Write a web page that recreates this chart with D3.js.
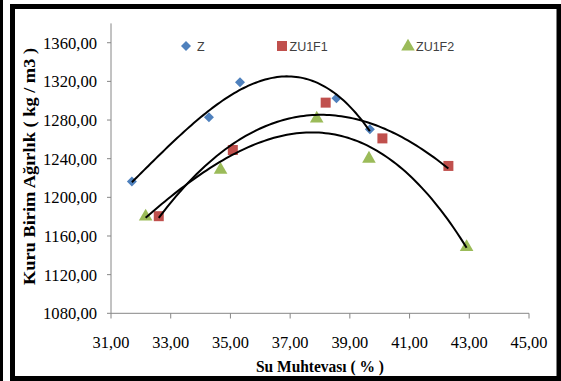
<!DOCTYPE html>
<html><head><meta charset="utf-8">
<script src="https://cdn.jsdelivr.net/npm/d3@7"></script>
<style>body{margin:0;background:#fff}svg{display:block}</style>
</head><body>
<svg id="c" width="561" height="381"></svg>
<script>
const seriesNames = ["Z", "ZU1F1", "ZU1F2"];
const zX = [31.70, 34.28, 35.32, 38.55, 39.67];
const zY = [1216.5, 1283.0, 1319.0, 1302.5, 1270.5];
const f1X = [32.60, 35.08, 38.19, 40.09, 42.30];
const f1Y = [1180.5, 1249.0, 1298.0, 1261.0, 1232.5];
const f2X = [32.16, 34.67, 37.89, 39.64, 42.91];
const f2Y = [1181.0, 1229.5, 1282.5, 1241.0, 1149.5];
const xTicks = [31, 33, 35, 37, 39, 41, 43, 45];
const yTicks = [1080, 1120, 1160, 1200, 1240, 1280, 1320, 1360];
const colors = ["#4F81BD", "#C0504D", "#9BBB59"];
const trendOrder = [3, 3, 3];

const svg = d3.select("#c");
const fmt = v => v.toFixed(2).replace(".", ",");
const serif = "'Liberation Serif','Times New Roman',serif";

svg.append("rect").attr("x",0).attr("y",0).attr("width",3).attr("height",381).attr("fill","#000");
svg.append("rect").attr("x",12.5).attr("y",6.5).attr("width",546.5).attr("height",372)
  .attr("fill","#fff").attr("stroke","#000").attr("stroke-width",5);

const x = d3.scaleLinear().domain([31,45]).range([111,529]);
const y = d3.scaleLinear().domain([1080,1380]).range([313.3,23.4]);

svg.append("line").attr("x1",111).attr("x2",111).attr("y1",y(1380)).attr("y2",y(1080)).attr("stroke","#868686");
svg.selectAll(".yt").data(yTicks).join("line").attr("x1",107).attr("x2",111)
  .attr("y1",d=>y(d)).attr("y2",d=>y(d)).attr("stroke","#868686");
svg.selectAll(".yl").data(yTicks).join("text").attr("x",97).attr("y",d=>y(d)+6)
  .attr("text-anchor","end").style("font-family",serif).attr("font-size",16.6)
  .attr("fill","#000").text(fmt);
svg.append("line").attr("x1",x(31)).attr("x2",x(45)).attr("y1",313.3).attr("y2",313.3).attr("stroke","#868686");
svg.selectAll(".xt").data(xTicks).join("line").attr("x1",d=>x(d)).attr("x2",d=>x(d))
  .attr("y1",313.3).attr("y2",318.5).attr("stroke","#868686");
svg.selectAll(".xl").data(xTicks).join("text").attr("x",d=>x(d)).attr("y",348.3)
  .attr("text-anchor","middle").style("font-family",serif).attr("font-size",16.4)
  .attr("fill","#000").text(fmt);

svg.append("text").attr("transform","translate(35,166.5) rotate(-90)").attr("text-anchor","middle")
  .style("font-family",serif).attr("font-weight","bold").attr("font-size",16)
  .attr("textLength",237).attr("lengthAdjust","spacingAndGlyphs")
  .text("Kuru Birim Ağırlık ( kg / m3 )");
svg.append("text").attr("x",320).attr("y",371.5).attr("text-anchor","middle")
  .style("font-family",serif).attr("font-weight","bold").attr("font-size",16)
  .attr("textLength",128).attr("lengthAdjust","spacingAndGlyphs")
  .text("Su Muhtevası ( % )");

const data = [[zX,zY],[f1X,f1Y],[f2X,f2Y]];
function marker(g,i,cx,cy){
  if(i===0) g.append("path").attr("transform",`translate(${cx},${cy}) rotate(45)`)
     .attr("d",d3.symbol().type(d3.symbolSquare).size(50)).attr("fill",colors[0]);
  else if(i===1) g.append("path").attr("transform",`translate(${cx},${cy})`)
     .attr("d",d3.symbol().type(d3.symbolSquare).size(100)).attr("fill",colors[1]);
  else g.append("path").attr("transform",`translate(${cx},${cy+1})`)
     .attr("d",d3.symbol().type(d3.symbolTriangle).size(80)).attr("fill",colors[2]);
}
const mg = svg.append("g");
data.forEach(([xs,ys],i)=> xs.forEach((v,k)=>marker(mg,i,x(v),y(ys[k]))));

// least-squares polynomial trendline (like Excel's trendline)
function fit(xs,ys,n){
  const m=n+1; const A=[];
  for(let i=0;i<m;i++){ A.push([]); for(let j=0;j<m;j++) A[i].push(d3.sum(xs,v=>Math.pow(v-37,i+j))); A[i].push(d3.sum(xs,(v,k)=>ys[k]*Math.pow(v-37,i))); }
  for(let i=0;i<m;i++){ for(let j=i+1;j<m;j++){ const f=A[j][i]/A[i][i]; for(let k=i;k<=m;k++) A[j][k]-=f*A[i][k]; } }
  const c=new Array(m).fill(0);
  for(let i=m-1;i>=0;i--){ let s=A[i][m]; for(let k=i+1;k<m;k++) s-=A[i][k]*c[k]; c[i]=s/A[i][i]; }
  return v=>d3.sum(c,(ci,p)=>ci*Math.pow(v-37,p));
}
const line = d3.line().x(d=>x(d[0])).y(d=>y(d[1]));
data.forEach(([xs,ys],i)=>{
  const f=fit(xs,ys,trendOrder[i]); const lo=d3.min(xs), hi=d3.max(xs);
  const pts=d3.range(0,101).map(k=>{const v=lo+(hi-lo)*k/100; return [v,f(v)];});
  svg.append("path").attr("d",line(pts)).attr("fill","none").attr("stroke","#000").attr("stroke-width",2);
});

const leg = [[186,197],[282,289.5],[408,416]];
seriesNames.forEach((n,i)=>{
  marker(svg,i,leg[i][0],46 - (i===2?0.5:0));
  svg.append("text").attr("x",leg[i][1]).attr("y",50.5).style("font-family","'Liberation Sans',Arial,sans-serif")
    .attr("font-size",12.5).attr("fill","#404040").text(n);
});
</script>
</body></html>
